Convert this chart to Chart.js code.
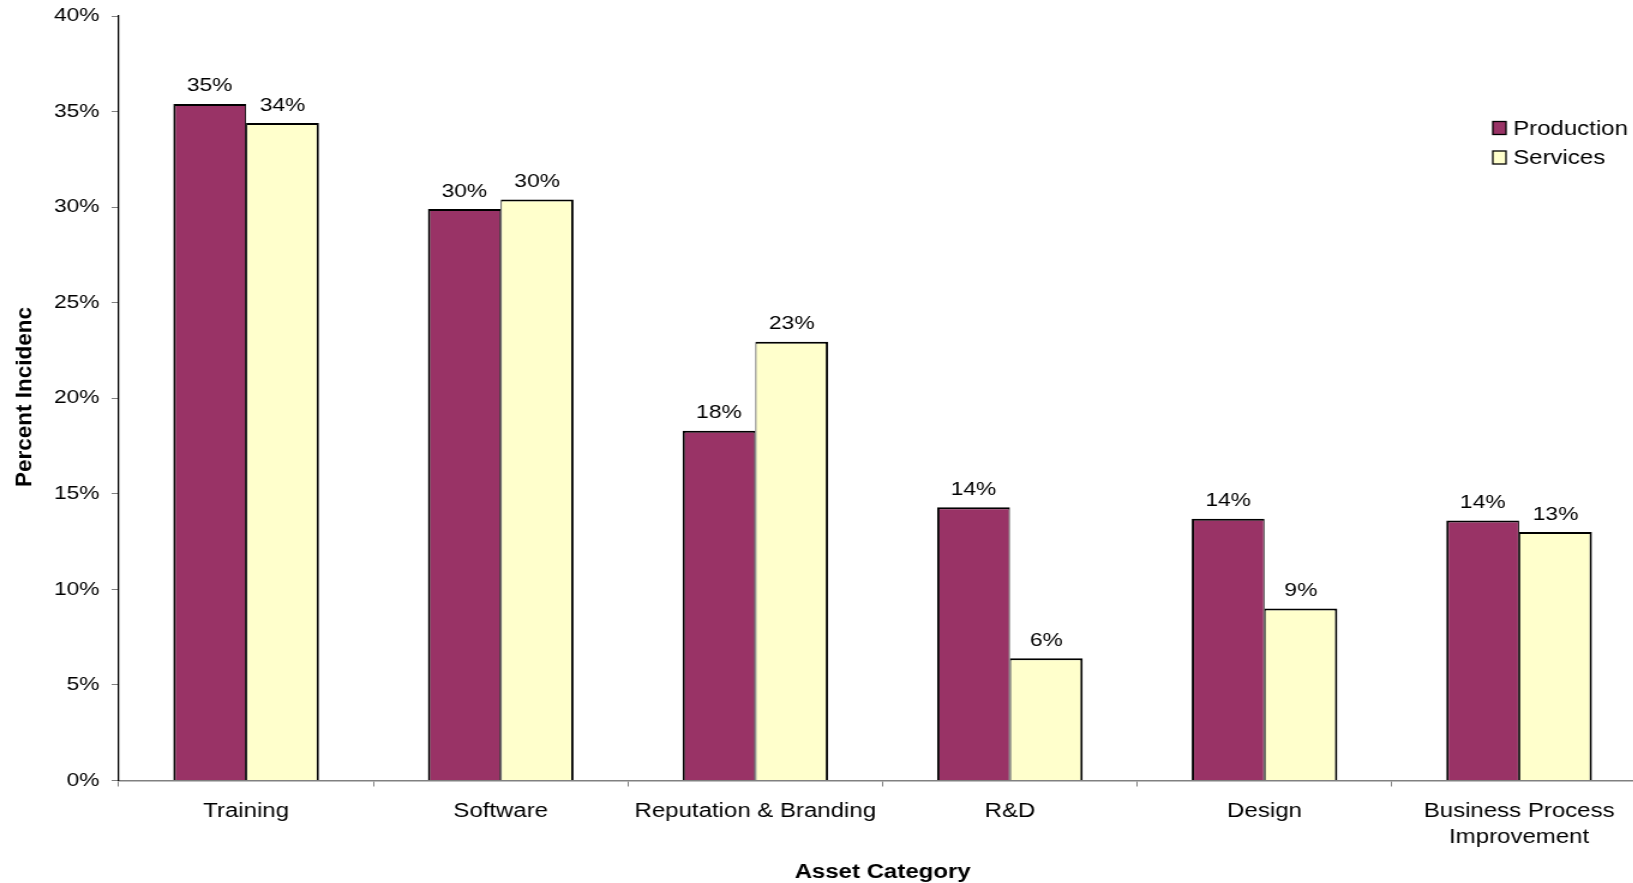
<!DOCTYPE html>
<html>
<head>
<meta charset="utf-8">
<script src="https://cdn.jsdelivr.net/npm/chart.js@4"></script>
<style>
  html, body { margin: 0; padding: 0; overflow: hidden; background: #fff; }
  /* the source picture is stretched sideways, so the whole canvas is too */
  #wrap { position: absolute; left: 0; top: 0; width: 1372px; height: 883px;
          transform: scaleX(1.2); transform-origin: 0 0; }
</style>
</head>
<body>
<div id="wrap"><canvas id="chart"></canvas></div>
<script>
// ─── Data ──────────────────────────────────────────────────────────
const categories = ['Training', 'Software', 'Reputation & Branding', 'R&D', 'Design',
  ['Business Process', 'Improvement']];
const production = [35.4, 29.9, 18.3, 14.3, 13.7, 13.6];
const services = [34.4, 30.4, 22.95, 6.4, 9.0, 13.0];
const yTicks = [0, 5, 10, 15, 20, 25, 30, 35, 40];
const yTitle = 'Percent Incidence';
const xTitle = 'Asset Category';

const FONT = "'Liberation Sans', Arial, sans-serif";

// value labels above each bar
const valueLabels = {
  id: 'valueLabels',
  afterDatasetsDraw(chart) {
    const { ctx } = chart;
    ctx.save();
    ctx.font = `19px ${FONT}`;
    ctx.fillStyle = '#000';
    ctx.textAlign = 'center';
    ctx.textBaseline = 'alphabetic';
    chart.data.datasets.forEach((ds, i) => {
      chart.getDatasetMeta(i).data.forEach((bar, j) => {
        ctx.fillText(Math.round(ds.data[j]) + '%', bar.x, bar.y - 12.5);
      });
    });
    ctx.restore();
  },
};

// legend floating in the upper right of the plot
const floatLegend = {
  id: 'floatLegend',
  afterDraw(chart) {
    const { ctx, chartArea } = chart;
    ctx.save();
    ctx.font = `20px ${FONT}`;
    ctx.textBaseline = 'middle';
    chart.data.datasets.forEach((ds, i) => {
      const x = chartArea.right - 128;
      const y = 128 + i * 29.5;
      ctx.fillStyle = ds.backgroundColor;
      ctx.fillRect(x, y - 6.5, 11, 13);
      ctx.strokeStyle = '#000';
      ctx.lineWidth = 1.3;
      ctx.strokeRect(x, y - 6.5, 11, 13);
      ctx.fillStyle = '#000';
      ctx.fillText(ds.label, x + 17, y + 1);
    });
    ctx.restore();
  },
};

// rotated y title, cut off at the top like the original
const yTitlePlugin = {
  id: 'yTitlePlugin',
  afterDraw(chart) {
    const { ctx } = chart;
    ctx.save();
    ctx.beginPath();
    ctx.rect(0, 307, 60, 576);
    ctx.clip();
    ctx.translate(21, 487);
    ctx.scale(0.8, 1);
    ctx.rotate(-Math.PI / 2);
    ctx.font = `bold 22.5px ${FONT}`;
    ctx.fillStyle = '#000';
    ctx.textAlign = 'left';
    ctx.textBaseline = 'middle';
    ctx.fillText(yTitle, 0, 0);
    ctx.restore();
  },
};

new Chart(document.getElementById('chart'), {
  type: 'bar',
  data: {
    labels: categories,
    datasets: [
      {
        label: 'Production',
        data: production,
        backgroundColor: '#993366',
        borderColor: '#000',
        borderWidth: { top: 2, left: 2, right: 1, bottom: 0 },
        categoryPercentage: 0.572,
        barPercentage: 1,
      },
      {
        label: 'Services',
        data: services,
        backgroundColor: '#FFFFCC',
        borderColor: '#000',
        borderWidth: { top: 2, left: 1, right: 2, bottom: 0 },
        categoryPercentage: 0.572,
        barPercentage: 1,
      },
    ],
  },
  options: {
    responsive: true,
    maintainAspectRatio: false,
    animation: false,
    layout: { padding: { top: 16, right: 0, left: 0, bottom: 0 } },
    plugins: {
      legend: { display: false },
      tooltip: { enabled: false },
    },
    scales: {
      x: {
        grid: { drawOnChartArea: false, offset: true, tickLength: 6, color: '#808080' },
        border: { color: '#808080', width: 1.5 },
        ticks: {
          color: '#000',
          padding: 12,
          maxRotation: 0,
          autoSkip: false,
          font: { family: FONT, size: 20, lineHeight: 1.3 },
        },
        title: {
          display: true,
          text: xTitle,
          color: '#000',
          font: { family: FONT, size: 20, weight: 'bold', lineHeight: 1 },
          padding: { top: 0, bottom: 1 },
        },
        afterFit(scale) { scale.height = 102.5; },
      },
      y: {
        min: yTicks[0],
        max: yTicks[yTicks.length - 1],
        grid: { drawOnChartArea: false, tickLength: 6, color: '#808080' },
        border: { color: '#000', width: 1.3 },
        ticks: {
          stepSize: yTicks[1] - yTicks[0],
          color: '#000',
          padding: 10,
          font: { family: FONT, size: 19 },
          callback: (v) => v + '%',
        },
        afterFit(scale) {
          scale.width = 99;
          scale.paddingTop = 0;
        },
      },
    },
  },
  plugins: [valueLabels, floatLegend, yTitlePlugin],
});
</script>
</body>
</html>
